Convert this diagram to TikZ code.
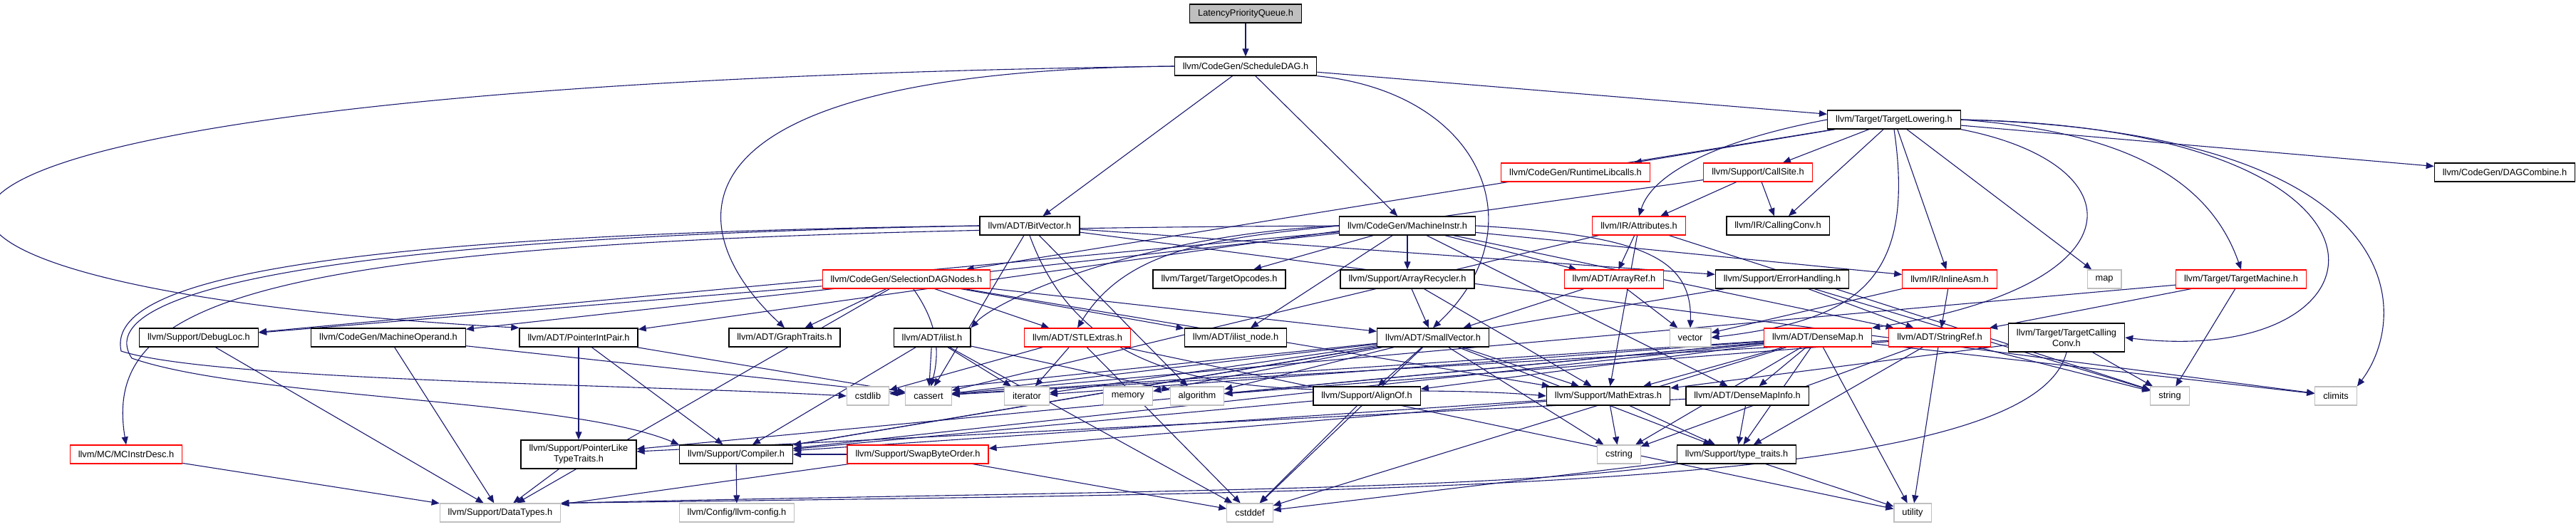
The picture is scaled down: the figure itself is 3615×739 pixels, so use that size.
\documentclass[tikz,border=0pt]{standalone}
\usepackage{fontspec}
\setmainfont{Liberation Sans}
\usepackage{tikz}
\usetikzlibrary{arrows.meta}
\definecolor{edgeblue}{RGB}{25,25,112}
\definecolor{boxgray}{RGB}{191,191,191}
\pgfdeclarelayer{edges}
\pgfsetlayers{edges,main}

\begin{document}
\begin{tikzpicture}
[
    x = 1pt, y = -1pt,
    hdr/.style={draw=black, line width=1.4pt, fill=white, minimum height=26pt,
        inner xsep=11.5pt, inner ysep=0pt, font=\fontsize{12.8}{15}\selectfont},
    trunc/.style={hdr, draw=red, line width=1.1pt},
    sys/.style={hdr, draw=boxgray, line width=1.1pt},
    rootbox/.style={hdr, fill=boxgray},
    twoline/.style={align=center, minimum height=40pt},
    arrow/.style={draw=edgeblue, -{Triangle[length=11pt, width=9pt]}, line width=1.1pt},
]
\useasboundingbox (0,0) rectangle (3615,739);

% header files, row by row
\node[rootbox] (lpq) at (1748,19) {LatencyPriorityQueue.h};
\node[hdr] (sched) at (1748,93) {llvm/CodeGen/ScheduleDAG.h};
\node[hdr] (tlow) at (2658,168) {llvm/Target/TargetLowering.h};
\node[trunc] (rtlib) at (2211,242) {llvm/CodeGen/RuntimeLibcalls.h};
\node[trunc] (csite) at (2467,242) {llvm/Support/CallSite.h};
\node[hdr] (dagc) at (3515,242) {llvm/CodeGen/DAGCombine.h};
\node[hdr] (bitvec) at (1445,317) {llvm/ADT/BitVector.h};
\node[hdr] (minstr) at (1975,317) {llvm/CodeGen/MachineInstr.h};
\node[trunc] (attr) at (2300,317) {llvm/IR/Attributes.h};
\node[hdr] (cconv) at (2495,317) {llvm/IR/CallingConv.h};
\node[trunc] (sdn) at (1272,392) {llvm/CodeGen/SelectionDAGNodes.h};
\node[hdr] (topc) at (1711,392) {llvm/Target/TargetOpcodes.h};
\node[hdr] (arec) at (1975,392) {llvm/Support/ArrayRecycler.h};
\node[trunc] (aref) at (2265,392) {llvm/ADT/ArrayRef.h};
\node[hdr] (errh) at (2501,392) {llvm/Support/ErrorHandling.h};
\node[trunc] (iasm) at (2736,392) {llvm/IR/InlineAsm.h};
\node[sys] (map) at (2953,392) {map};
\node[trunc] (tmach) at (3145,392) {llvm/Target/TargetMachine.h};
\node[hdr] (dloc) at (279,474) {llvm/Support/DebugLoc.h};
\node[hdr] (mop) at (545,474) {llvm/CodeGen/MachineOperand.h};
\node[hdr] (pip) at (812,474) {llvm/ADT/PointerIntPair.h};
\node[hdr] (graph) at (1101,474) {llvm/ADT/GraphTraits.h};
\node[hdr] (ilist) at (1308,474) {llvm/ADT/ilist.h};
\node[trunc] (stlx) at (1512,474) {llvm/ADT/STLExtras.h};
\node[hdr] (ilnode) at (1734,474) {llvm/ADT/ilist\_node.h};
\node[hdr] (svec) at (2011,474) {llvm/ADT/SmallVector.h};
\node[sys] (vector) at (2372,474) {vector};
\node[trunc] (dmap) at (2551,474) {llvm/ADT/DenseMap.h};
\node[trunc] (sref) at (2722,474) {llvm/ADT/StringRef.h};
\node[hdr, twoline] (tcc) at (2900,474) {llvm/Target/TargetCalling\\Conv.h};
\node[sys] (cstdlib) at (1218,556) {cstdlib};
\node[sys] (cassert) at (1303,556) {cassert};
\node[sys] (iterator) at (1441,556) {iterator};
\node[sys] (memory) at (1583,556) {memory};
\node[sys] (algorithm) at (1680,556) {algorithm};
\node[hdr] (alignof) at (1918,556) {llvm/Support/AlignOf.h};
\node[hdr] (mathx) at (2257,556) {llvm/Support/MathExtras.h};
\node[hdr] (dmi) at (2452,556) {llvm/ADT/DenseMapInfo.h};
\node[sys] (string) at (3045,556) {string};
\node[sys] (climits) at (3278,556) {climits};
\node[trunc] (mcid) at (177,638) {llvm/MC/MCInstrDesc.h};
\node[hdr, twoline] (pltt) at (812,638) {llvm/Support/PointerLike\\TypeTraits.h};
\node[hdr] (compiler) at (1033,638) {llvm/Support/Compiler.h};
\node[trunc] (swapbo) at (1288,638) {llvm/Support/SwapByteOrder.h};
\node[sys] (cstring) at (2272,638) {cstring};
\node[hdr] (ttraits) at (2437,638) {llvm/Support/type\_traits.h};
\node[sys] (dtypes) at (702,720) {llvm/Support/DataTypes.h};
\node[sys] (llvmcfg) at (1034,720) {llvm/Config/llvm-config.h};
\node[sys] (cstddef) at (1754,720) {cstddef};
\node[sys] (utility) at (2684,720) {utility};

\begin{pgfonlayer}{edges}
% ScheduleDAG.h and what it pulls in
\draw[arrow] (lpq) -- (sched);
\draw[arrow] (sched) -- (bitvec);
\draw[arrow] (sched) -- (minstr);
\draw[arrow] (sched) -- (tlow);
\draw[arrow] (sched.south east) .. controls (2080,130) and (2160,320) .. (svec.north);
\draw[arrow] (sched.west) .. controls (900,100) and (960,330) .. (graph.north);
\draw[arrow] (sched.west) .. controls (-380,120) and (-380,400) .. (pip.north west);

% MachineInstr.h
\draw[arrow] (minstr) -- (arec);
\draw[arrow] (minstr) -- (topc);
\draw[arrow] (minstr) -- (aref);
\draw[arrow] (minstr) -- (dmi);
\draw[arrow] (minstr) -- (sref);
\draw[arrow] (minstr) -- (iasm);
\draw[arrow] (minstr) -- (ilnode);
\draw[arrow] (minstr) -- (mop);
\draw[arrow] (minstr) -- (dloc);
\draw[arrow] (minstr.east) .. controls (2300,330) and (2375,360) .. (vector.north);
\draw[arrow] (minstr.west) .. controls (1700,335) and (1580,350) .. (stlx.north);
\draw[arrow] (minstr.west) .. controls (1600,330) and (1400,420) .. (ilist.north east);
\draw[arrow] (minstr.west) .. controls (400,325) and (140,400) .. (mcid.north);

% TargetLowering.h
\draw[arrow] (tlow) -- (rtlib);
\draw[arrow] (tlow) -- (csite);
\draw[arrow] (tlow) -- (cconv);
\draw[arrow] (tlow) -- (dagc);
\draw[arrow] (tlow) -- (iasm);
\draw[arrow] (tlow) -- (map);
\draw[arrow] (tlow) -- (sdn);
\draw[arrow] (tlow.west) .. controls (2420,195) and (2320,240) .. (attr.north);
\draw[arrow] (tlow.south) .. controls (2690,400) and (2600,450) .. (vector.east);
\draw[arrow] (tlow.south east) .. controls (3000,230) and (3010,400) .. (dmap.north east);
\draw[arrow] (tlow.east) .. controls (3420,180) and (3370,520) .. (tcc.east);
\draw[arrow] (tlow.east) .. controls (2980,185) and (3100,250) .. (tmach.north);
\draw[arrow] (tlow.east) .. controls (3385,185) and (3385,440) .. (climits.north east);

% CallSite.h, Attributes.h
\draw[arrow] (csite) -- (cconv);
\draw[arrow] (csite) -- (attr);
\draw[arrow] (csite) -- (pip);
\draw[arrow] (attr) -- (aref);
\draw[arrow] (attr) -- (mathx);
\draw[arrow] (attr) -- (cassert);
\draw[arrow] (attr) -- (string);

% BitVector.h
\draw[arrow] (bitvec) -- (errh);
\draw[arrow] (bitvec) -- (algorithm);
\draw[arrow] (bitvec) -- (cassert);
\draw[arrow] (bitvec) -- (climits);
\draw[arrow] (bitvec.south) to[out=-70,in=175] (mathx.west);
\draw[arrow] (bitvec.west) .. controls (400,330) and (150,400) .. (170,493)
    .. controls (300,535) and (900,540) .. (cstdlib.west);
\draw[arrow] (bitvec.west) .. controls (380,335) and (130,420) .. (185,503)
    .. controls (350,560) and (800,560) .. (compiler.north west);

% SelectionDAGNodes.h
\draw[arrow] (sdn) -- (graph);
\draw[arrow] (sdn) -- (stlx);
\draw[arrow] (sdn) -- (svec);
\draw[arrow] (sdn) -- (ilnode);
\draw[arrow] (sdn) -- (dloc);
\draw[arrow] (sdn) -- (dtypes);
\draw[arrow] (sdn) -- (mathx);
\draw[arrow] (sdn) to[bend left=25] (cassert);

% middle rows
\draw[arrow] (arec) -- (svec);
\draw[arrow] (arec) -- (mathx);
\draw[arrow] (aref) -- (svec);
\draw[arrow] (aref) -- (vector);
\draw[arrow] (errh) -- (sref);
\draw[arrow] (errh) -- (compiler);
\draw[arrow] (errh) -- (string);
\draw[arrow] (iasm) -- (sref);
\draw[arrow] (iasm.south west) -- (vector);
\draw[arrow] (tmach) -- (sref);
\draw[arrow] (tmach) -- (cassert);
\draw[arrow] (tmach) -- (string);
\draw[arrow] (tcc) -- (mathx);
\draw[arrow] (tcc) -- (string);
\draw[arrow] (tcc.south) .. controls (2850,690) and (2000,690) .. (dtypes.north east);

\draw[arrow] (ilist) -- (compiler);
\draw[arrow] (ilist) -- (algorithm);
\draw[arrow] (ilist) -- (cassert);
\draw[arrow] (ilist) -- (cstddef);
\draw[arrow] (ilist) -- (iterator);
\draw[arrow] (stlx) -- (cstdlib);
\draw[arrow] (stlx) -- (iterator);
\draw[arrow] (stlx) -- (cstddef);
\draw[arrow] (stlx) -- (utility);
\draw[arrow] (pip) -- (compiler);
\draw[arrow] (pip) -- (pltt);
\draw[arrow] (pip) -- (cassert);
\draw[arrow] (mop) -- (dtypes);
\draw[arrow] (mop) -- (cassert);
\draw[arrow] (dloc) -- (dtypes);
\draw[arrow] (mcid) -- (dtypes);

% SmallVector.h
\draw[arrow] (svec) -- (alignof);
\draw[arrow] (svec) -- (compiler);
\draw[arrow] (svec) -- (mathx);
\draw[arrow] (svec) -- (ttraits);
\draw[arrow] (svec) -- (algorithm);
\draw[arrow] (svec) -- (cassert);
\draw[arrow] (svec) -- (cstddef);
\draw[arrow] (svec) -- (cstdlib);
\draw[arrow] (svec) -- (cstring);
\draw[arrow] (svec) -- (iterator);
\draw[arrow] (svec) -- (memory);

% DenseMap.h
\draw[arrow] (dmap) -- (dmi);
\draw[arrow] (dmap) -- (alignof);
\draw[arrow] (dmap) -- (compiler);
\draw[arrow] (dmap) -- (mathx);
\draw[arrow] (dmap) -- (pltt);
\draw[arrow] (dmap) -- (ttraits);
\draw[arrow] (dmap) -- (algorithm);
\draw[arrow] (dmap) -- (cassert);
\draw[arrow] (dmap) -- (climits);
\draw[arrow] (dmap) -- (cstddef);
\draw[arrow] (dmap) -- (cstring);
\draw[arrow] (dmap) -- (iterator);
\draw[arrow] (dmap) -- (utility);

% StringRef.h
\draw[arrow] (sref) -- (ttraits);
\draw[arrow] (sref) -- (algorithm);
\draw[arrow] (sref) -- (cassert);
\draw[arrow] (sref) -- (cstring);
\draw[arrow] (sref) -- (string);
\draw[arrow] (sref) -- (utility);

% bottom rows
\draw[arrow] (dmi) -- (pltt);
\draw[arrow] (dmi) -- (ttraits);
\draw[arrow] (alignof) -- (compiler);
\draw[arrow] (alignof) -- (cstddef);
\draw[arrow] (mathx) -- (swapbo);
\draw[arrow] (mathx) -- (compiler);
\draw[arrow] (mathx) -- (ttraits);
\draw[arrow] (mathx) -- (cstring);
\draw[arrow] (swapbo) -- (compiler);
\draw[arrow] (swapbo) -- (dtypes);
\draw[arrow] (swapbo) -- (cstddef);
\draw[arrow] (ttraits.south west) .. controls (2100,690) and (1500,690) .. (dtypes.north east);
\draw[arrow] (ttraits) -- (cstddef);
\draw[arrow] (ttraits) -- (utility);
\draw[arrow] (pltt) -- (dtypes);
\draw[arrow] (compiler) -- (llvmcfg);
\end{pgfonlayer}
\end{tikzpicture}
\end{document}
